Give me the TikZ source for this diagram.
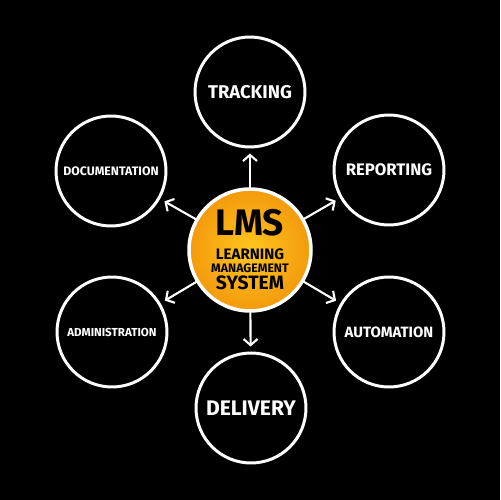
\documentclass[tikz,border=0pt]{standalone}
\usepackage{fontspec}
\setmainfont{Fira Sans}
\usetikzlibrary{arrows.meta}

\definecolor{hubinner}{HTML}{FFC61F}
\definecolor{hubouter}{HTML}{F39A0C}

\tikzset{
  topic/.style={circle, draw=white, line width=1.7pt, minimum size=2.2cm,
    text=white, font=\bfseries\fontsize{#1}{#1}\selectfont},
  hub/.style={circle, draw=white, line width=2pt, minimum size=2.44cm,
    inner color=hubinner, outer color=hubouter},
  link/.style={draw=white, line width=1.2pt, line cap=round,
    -{Straight Barb[length=3.5pt,width=8pt]}, shorten >=0.1cm},
}

\begin{document}
\begin{tikzpicture}[x=0.02cm, y=-0.02cm]
  \fill[black] (0,0) rectangle (500,500);
  \useasboundingbox (0,0) rectangle (500,500);

  \node[hub] (lms) at (250,250) {};

  \node[topic=10.5] (track) at (250,92)  {TRACKING};
  \node[topic=9.5]  (rep)   at (389,170) {REPORTING};
  \node[topic=8.5]  (auto)  at (389,332) {AUTOMATION};
  \node[topic=12]   (deliv) at (251,408) {DELIVERY};
  \node[topic=6.6]  (admin) at (112,332) {ADMINISTRATION};
  \node[topic=7]    (doc)   at (111,171) {DOCUMENTATION};

  \foreach \t in {track,rep,auto,deliv,admin,doc}
    \draw[link] (lms) -- (\t);

  % text in the hub
  \begin{scope}[every node/.style={text=black, inner sep=0pt}]
    \node[font=\bfseries\fontsize{21}{21}\selectfont] (lmsA) at (250,223) {LMS};
    \node[font=\bfseries\fontsize{8.6}{9}\selectfont] (lmsB) at (250,254) {LEARNING};
    \node[font=\bfseries\fontsize{7}{7}\selectfont] (lmsC) at (250,268) {MANAGEMENT};
    \node[font=\bfseries\fontsize{11}{11}\selectfont] (lmsD) at (250,283) {SYSTEM};
  \end{scope}
\end{tikzpicture}
\end{document}
